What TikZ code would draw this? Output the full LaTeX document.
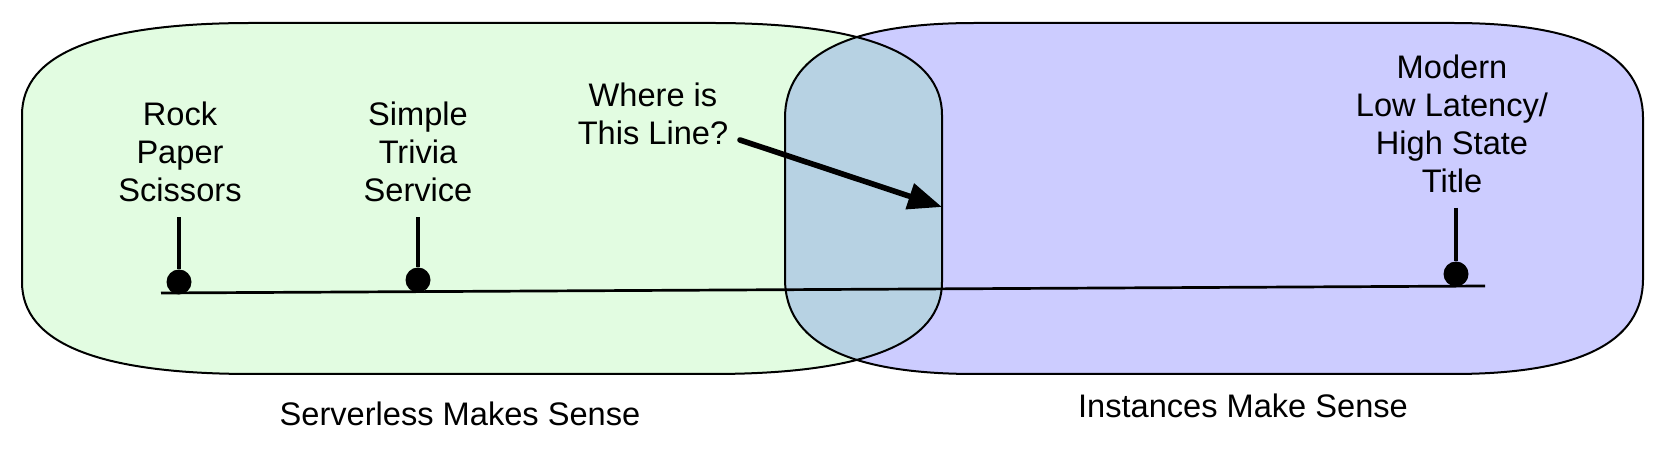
\documentclass[tikz,border=0pt]{standalone}
\usepackage{fontspec}
\setmainfont{Liberation Sans}
\usepackage{tikz}
\definecolor{VennGreen}{HTML}{E2FCE1}
\definecolor{VennBlue}{HTML}{CCCCFF}
\definecolor{VennBoth}{HTML}{B7D2E3}
\usetikzlibrary{arrows.meta, positioning}
% rounded box with soft corners: left, top, right, bottom, rx, ry
\newcommand{\vennbox}[6]{%
  ({#1+#5},#2) -- ({#3-#5},#2)
  .. controls ({#3-#5/3},#2) and (#3,{#2+#6/3}) .. (#3,{#2+#6})
  -- (#3,{#4-#6})
  .. controls (#3,{#4-#6/3}) and ({#3-#5/3},#4) .. ({#3-#5},#4)
  -- ({#1+#5},#4)
  .. controls ({#1+#5/3},#4) and (#1,{#4-#6/3}) .. (#1,{#4-#6})
  -- (#1,{#2+#6})
  .. controls (#1,{#2+#6/3}) and ({#1+#5/3},#2) .. cycle}

\begin{document}
\begin{tikzpicture}[x=0.5pt, y=-0.5pt]
  \tikzset{
    itemtext/.style={align=center, font=\fontsize{16.3}{19}\selectfont, inner sep=7.5pt},
    areatext/.style={font=\fontsize{16.3}{19}\selectfont, inner sep=0pt},
    knob/.style={circle, fill=black, inner sep=0pt, minimum size=12.5pt},
    pole/.style={line width=2.4pt},
    bigarrow/.style={line width=2.8pt, line cap=round, -{Triangle[length=17pt, width=13pt]}},
  }
  \useasboundingbox (0,0) rectangle (1666,464);

  % the two regions and their overlap
  \fill[VennGreen] \vennbox{22}{23}{942}{374}{230}{92};
  \fill[VennBlue] \vennbox{785}{23}{1643}{374}{190}{95};
  \begin{scope}
    \clip \vennbox{22}{23}{942}{374}{230}{92};
    \fill[VennBoth] \vennbox{785}{23}{1643}{374}{190}{95};
  \end{scope}
  \draw[line width=1pt] \vennbox{22}{23}{942}{374}{230}{92};
  \draw[line width=1pt] \vennbox{785}{23}{1643}{374}{190}{95};

  % region captions
  \node[areatext] (serverless) at (460,414) {Serverless Makes Sense};
  \node[areatext] (instances) at (1243,406) {Instances Make Sense};

  % timeline
  \coordinate (tlstart) at (161,293);
  \coordinate (tlend) at (1485,286);
  \draw[line width=1.35pt] (tlstart) -- (tlend);

  % games on the line
  \node[itemtext] (rps) at (180,152) {Rock\\Paper\\Scissors};
  \node[itemtext] (trivia) at (418,152) {Simple\\Trivia\\Service};
  \node[itemtext] (modern) at (1452,123.5) {Modern\\Low Latency/\\High State\\Title};
  \node[knob] (rpsdot) at (179,282) {};
  \node[knob] (triviadot) at (418,280) {};
  \node[knob] (moderndot) at (1456,274) {};
  \draw[pole] (rps.south -| rpsdot) -- (rpsdot);
  \draw[pole] (trivia.south -| triviadot) -- (triviadot);
  \draw[pole] (modern.south -| moderndot) -- (moderndot);

  % the question
  \node[itemtext] (where) at (653,113.5) {Where is\\This Line?};
  \coordinate (asksrc) at (740,140);
  \coordinate (askend) at (942,207);
  \draw[bigarrow] (asksrc) -- (askend);
\end{tikzpicture}
\end{document}
